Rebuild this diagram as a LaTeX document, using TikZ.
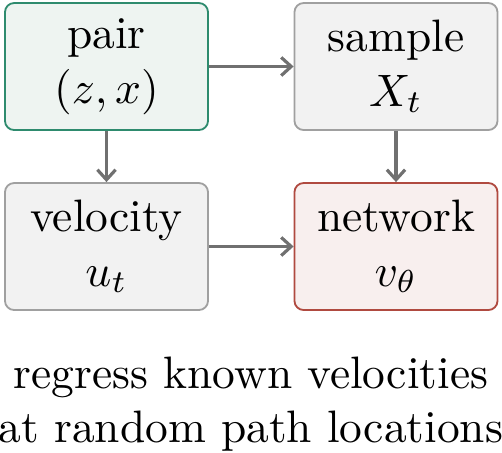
\documentclass[tikz,border=0pt]{standalone}
\usetikzlibrary{arrows.meta}
\definecolor{gfill}{HTML}{EEF4F1}
\definecolor{gdraw}{HTML}{2E8B6E}
\definecolor{sfill}{HTML}{F2F2F2}
\definecolor{sdraw}{HTML}{A0A0A0}
\definecolor{rfill}{HTML}{F8EFEE}
\definecolor{rdraw}{HTML}{B04A40}
\definecolor{arr}{HTML}{707070}
\begin{document}
\begin{tikzpicture}[x=0.22pt,y=-0.22pt,
  box/.style={draw, line width=0.4pt, rounded corners=2pt, minimum width=44.66pt, minimum height=27.94pt, align=center, inner sep=0pt},
  conn/.style={draw=arr, line width=0.7pt, -{Straight Barb[length=2.2pt,width=4pt]}}]
\useasboundingbox (0,0) rectangle (502,453);
\node[box, fill=gfill, draw=gdraw] (pair) at (106.5,66.5) {pair\\$(z,x)$};
\node[box, fill=sfill, draw=sdraw] (sample) at (396,66.5) {sample\\$X_t$};
\node[box, fill=sfill, draw=sdraw] (vel) at (106.5,246.5) {velocity\\$u_t$};
\node[box, fill=rfill, draw=rdraw] (net) at (396,246.5) {network\\$v_\theta$};
\draw[conn] (pair) -- (sample);
\draw[conn] (pair) -- (vel);
\draw[conn] (sample) -- (net);
\draw[conn] (vel) -- (net);
\node[align=center, inner sep=0pt] (cap) at (251,404) {regress known velocities\\at random path locations};
\end{tikzpicture}
\end{document}
